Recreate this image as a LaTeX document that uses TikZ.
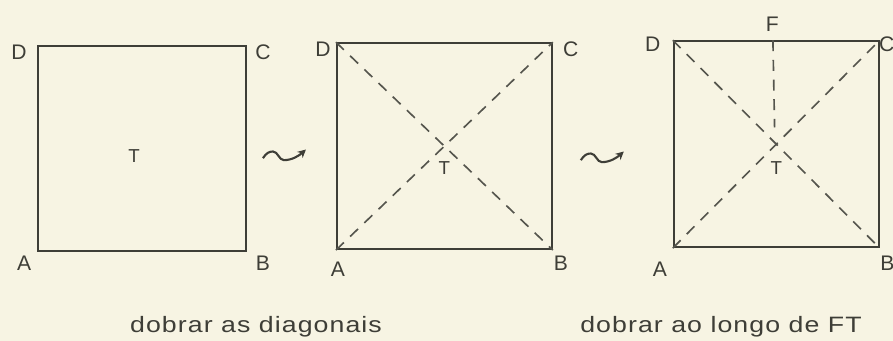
\documentclass[tikz,border=0pt]{standalone}
\usepackage{fontspec}
\setmainfont{Liberation Sans}
\newfontfamily\capfont[LetterSpace=4]{Liberation Sans}
\usetikzlibrary{arrows.meta, positioning, calc}
\definecolor{paper}{HTML}{F7F4E3}
\definecolor{ink}{HTML}{3E3E37}
\definecolor{crease}{HTML}{55554D}

\begin{document}
\begin{tikzpicture}[>=Stealth,
        sheet/.style={draw=ink, line width=1.6pt, minimum width=6.24cm, minimum height=6.15cm, inner sep=0pt},
        fold/.style={draw=crease, line width=1.4pt, dash pattern=on 0.33cm off 0.26cm},
        vtx/.style={text=ink, font=\fontsize{18}{20}\selectfont, inner sep=0pt},
        ctr/.style={text=ink, font=\fontsize{16}{18}\selectfont, inner sep=0pt},
        wave/.style={draw=ink, line width=1.8pt, -{Stealth[length=7pt, width=7pt]}},
        caption/.style={text=ink, font=\capfont\fontsize{19}{22}\selectfont, inner sep=0pt, anchor=base}]
    \fill[paper] (0,0) rectangle (26.79,10.23);
    \useasboundingbox (0,0) rectangle (26.79,10.23);
    % the three sheets
    \node[sheet] (s1) at (4.26,5.775) {};
    \node[sheet, minimum width=6.45cm, minimum height=6.18cm, right=2.67cm of s1, yshift=0.07cm] (s2) {};
    \node[sheet, minimum width=6.15cm, minimum height=6.18cm, right=3.6cm of s2, yshift=0.06cm] (s3) {};
    % corner letters
    \node[vtx, xshift=-0.54cm, yshift=-0.21cm] (d1) at (s1.north west) {D};
    \node[vtx, xshift=0.48cm, yshift=-0.21cm] (c1) at (s1.north east) {C};
    \node[vtx, xshift=-0.39cm, yshift=-0.33cm] (a1) at (s1.south west) {A};
    \node[vtx, xshift=0.48cm, yshift=-0.33cm] (b1) at (s1.south east) {B};
    \node[ctr, xshift=-0.24cm, yshift=-0.22cm] (t1) at (s1.center) {T};
    \node[vtx, xshift=-0.39cm, yshift=-0.21cm] (d2) at (s2.north west) {D};
    \node[vtx, xshift=0.54cm, yshift=-0.21cm] (c2) at (s2.north east) {C};
    \node[vtx, xshift=0.06cm, yshift=-0.57cm] (a2) at (s2.south west) {A};
    \node[vtx, xshift=0.24cm, yshift=-0.39cm] (b2) at (s2.south east) {B};
    \node[ctr, yshift=-0.66cm] (t2) at (s2.center) {T};
    \node[vtx, xshift=-0.6cm, yshift=-0.12cm] (d3) at (s3.north west) {D};
    \node[vtx, xshift=-0.12cm, yshift=0.48cm] (f3) at (s3.north) {F};
    \node[vtx, xshift=0.21cm, yshift=-0.12cm] (c3) at (s3.north east) {C};
    \node[vtx, xshift=-0.39cm, yshift=-0.63cm] (a3) at (s3.south west) {A};
    \node[vtx, xshift=0.23cm, yshift=-0.45cm] (b3) at (s3.south east) {B};
    \node[ctr, yshift=-0.72cm] (t3) at (s3.center) {T};
    % creases
    \foreach \s in {s2,s3} {
        \draw[fold] (\s.south west) -- (\s.north east);
        \draw[fold] (\s.north west) -- (\s.south east);
    }
    \coordinate (ftop) at ([xshift=-0.1cm]s3.north);
    \coordinate (fend) at ([xshift=-0.05cm, yshift=0.5cm]s3.center);
    \draw[fold] (ftop) -- (fend);
    % squiggly arrows
    \coordinate (w1) at ([xshift=0.48cm, yshift=-0.29cm]s1.east);
    \coordinate (w2) at ([xshift=0.84cm, yshift=-0.42cm]s2.east);
    \foreach \w in {w1,w2}
        \draw[wave] (\w) .. controls +(0.1,0.15) and +(-0.12,0) .. ++(0.3,0.2)
            .. controls +(0.15,0) and +(-0.15,0) .. ++(0.33,-0.26)
            .. controls +(0.25,0) and +(-0.2,-0.18) .. ++(0.66,0.32);
    % captions
    \node[caption] (cap1) at (7.68,0.24) {\scalebox{1.2}[1]{dobrar as diagonais}};
    \node[caption] (cap2) at (21.63,0.24) {\scalebox{1.2}[1]{dobrar ao longo de FT}};
\end{tikzpicture}
\end{document}
